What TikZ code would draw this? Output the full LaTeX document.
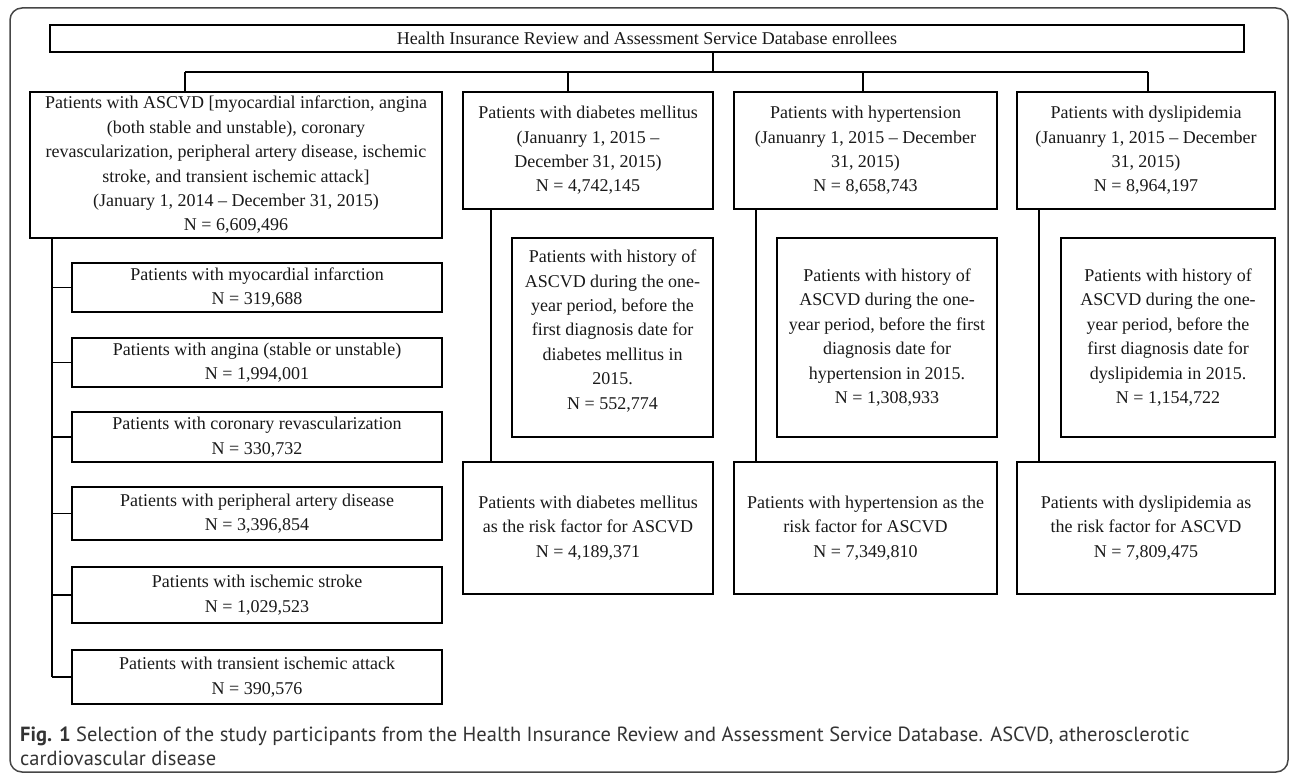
\documentclass[tikz,border=0pt]{standalone}
\usepackage{fontspec}
\setmainfont{Liberation Serif}
\newfontfamily\capfont{PT Sans}
\begin{document}
\begin{tikzpicture}[x=1pt,y=-1pt,
  bx/.style={draw, line width=1.2pt, align=center, inner sep=0pt, text=black!90,
    font=\fontsize{18}{24.4}\selectfont},
  ln/.style={line width=1.2pt},
  captxt/.style={anchor=base west, inner sep=0pt, text=black!80, font=\capfont\fontsize{20.5}{25}\selectfont}]
\useasboundingbox (0,0) rectangle (1290,776);
\draw[gray!55!black, line width=1.5pt, rounded corners=12pt] (10,8) rectangle (1288,772);

% top
\node[bx, minimum width=1194pt, minimum height=27pt] (top) at (647,38.5) {Health Insurance Review and Assessment Service Database enrollees};

% columns
\node[bx, minimum width=412pt, minimum height=146pt] (asc) at (236,165) {Patients with ASCVD [myocardial infarction, angina\\(both stable and unstable), coronary\\revascularization, peripheral artery disease, ischemic\\stroke, and transient ischemic attack]\\(January 1, 2014 -- December 31, 2015)\\N = 6,609,496};
\node[bx, minimum width=250pt, minimum height=117pt] (dm) at (588,150.5) {Patients with diabetes mellitus\\(Januanry 1, 2015 --\\December 31, 2015)\\N = 4,742,145};
\node[bx, minimum width=263pt, minimum height=117pt] (ht) at (865.5,150.5) {Patients with hypertension\\(Januanry 1, 2015 -- December\\31, 2015)\\N = 8,658,743};
\node[bx, minimum width=258pt, minimum height=117pt] (dl) at (1146,150.5) {Patients with dyslipidemia\\(Januanry 1, 2015 -- December\\31, 2015)\\N = 8,964,197};

% ASCVD sub-boxes
\node[bx, minimum width=370pt, minimum height=49pt] (mi) at (257,287.5) {Patients with myocardial infarction\\N = 319,688};
\node[bx, minimum width=370pt, minimum height=49pt] (an) at (257,362.5) {Patients with angina (stable or unstable)\\N = 1,994,001};
\node[bx, minimum width=370pt, minimum height=50pt] (cr) at (257,437) {Patients with coronary revascularization\\N = 330,732};
\node[bx, minimum width=370pt, minimum height=53pt] (pa) at (257,513.5) {Patients with peripheral artery disease\\N = 3,396,854};
\node[bx, minimum width=370pt, minimum height=56pt] (is) at (257,595) {Patients with ischemic stroke\\N = 1,029,523};
\node[bx, minimum width=370pt, minimum height=54pt] (ta) at (257,677) {Patients with transient ischemic attack\\N = 390,576};

% history boxes
\node[bx, minimum width=201pt, minimum height=199pt] (dmh) at (612.5,337.5) {Patients with history of\\ASCVD during the one-\\year period, before the\\first diagnosis date for\\diabetes mellitus in\\2015.\\N = 552,774\rule[-16pt]{0pt}{0pt}};
\node[bx, minimum width=220pt, minimum height=199pt] (hth) at (887,337.5) {Patients with history of\\ASCVD during the one-\\year period, before the first\\diagnosis date for\\hypertension in 2015.\\N = 1,308,933};
\node[bx, minimum width=214pt, minimum height=199pt] (dlh) at (1168,337.5) {Patients with history of\\ASCVD during the one-\\year period, before the\\first diagnosis date for\\dyslipidemia in 2015.\\N = 1,154,722};

% risk factor boxes
\node[bx, minimum width=250pt, minimum height=132pt] (dmr) at (588,528) {Patients with diabetes mellitus\\as the risk factor for ASCVD\\N = 4,189,371};
\node[bx, minimum width=263pt, minimum height=132pt] (htr) at (865.5,528) {Patients with hypertension as the\\risk factor for ASCVD\\N = 7,349,810};
\node[bx, minimum width=258pt, minimum height=132pt] (dlr) at (1146,528) {Patients with dyslipidemia as\\the risk factor for ASCVD\\N = 7,809,475};

% connectors
\coordinate (tj) at (713,72);
\coordinate (ja) at (185,72);
\coordinate (jd) at (568,72);
\coordinate (jh) at (863,72);
\coordinate (jl) at (1148,72);
\draw[ln] (top.south -| tj) -- (tj);
\draw[ln] (ja) -- (jl);
\draw[ln] (ja) -- (ja |- asc.north);
\draw[ln] (jd) -- (jd |- dm.north);
\draw[ln] (jh) -- (jh |- ht.north);
\draw[ln] (jl) -- (jl |- dl.north);

\coordinate (lv) at (52,0);
\draw[ln] (asc.south -| lv) -- (lv |- ta.west);
\foreach \n in {mi,an,cr,pa,is,ta} \draw[ln] (lv |- \n.west) -- (\n.west);

\coordinate (vd) at (491,0);
\coordinate (vh) at (756,0);
\coordinate (vl) at (1039,0);
\draw[ln] (dm.south -| vd) -- (dmr.north -| vd);
\draw[ln] (ht.south -| vh) -- (htr.north -| vh);
\draw[ln] (dl.south -| vl) -- (dlr.north -| vl);

% caption
\node[captxt] (cap1) at (20,741) {\textbf{Fig. 1} Selection of the study participants from the Health Insurance Review and Assessment Service Database. ASCVD, atherosclerotic};
\node[captxt] (cap2) at (20,765) {cardiovascular disease};
\end{tikzpicture}
\end{document}
